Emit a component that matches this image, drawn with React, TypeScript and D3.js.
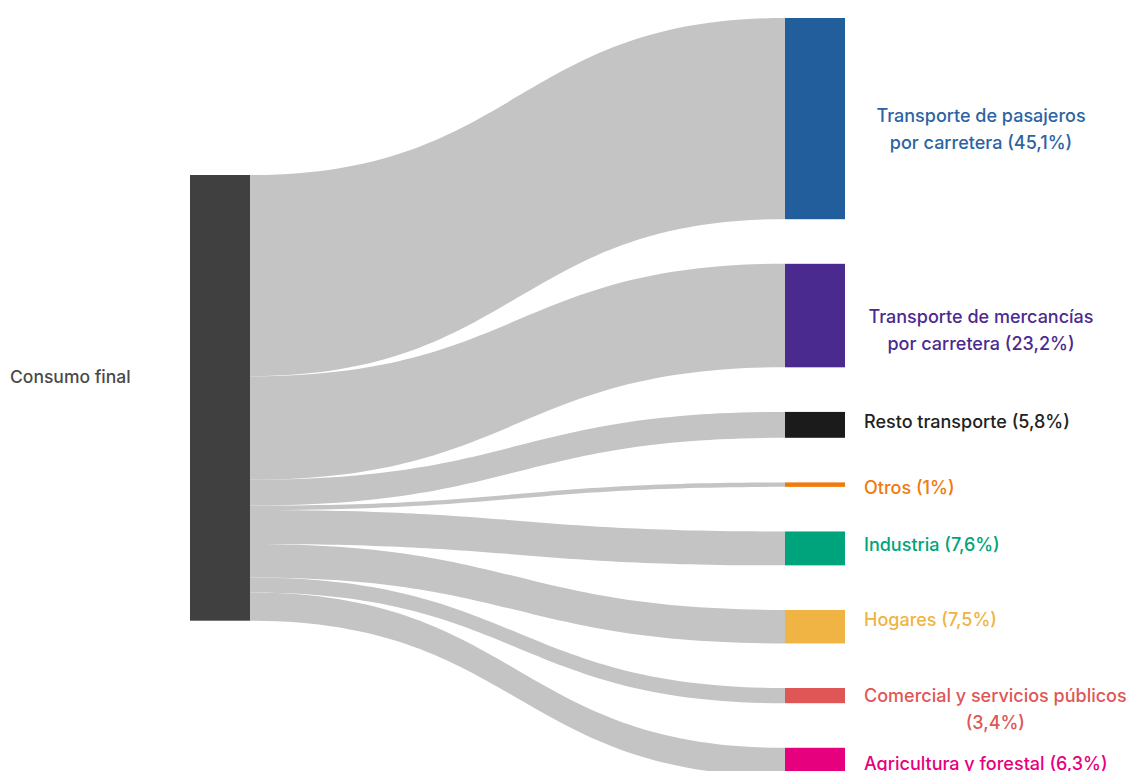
import React, { useEffect, useRef } from "react";
import * as d3 from "d3";

// ---- data ----
const sourceName = "Consumo final";
const targetNames = [
  "Transporte de pasajeros\npor carretera",
  "Transporte de mercancías\npor carretera",
  "Resto transporte",
  "Otros",
  "Industria",
  "Hogares",
  "Comercial y servicios públicos\n",
  "Agricultura y forestal",
];
const shares = [45.1, 23.2, 5.8, 1, 7.6, 7.5, 3.4, 6.3];
const nodeColors = ["#235e9c", "#4b2a8f", "#1b1b1b", "#f07a0c", "#00a47c", "#efb443", "#e05656", "#e6007e"];
const labelColors = ["#2c64a2", "#4b2a8f", "#222222", "#f07a0c", "#00a47c", "#efb443", "#e05656", "#e6007e"];
// small vertical nudges of each label relative to its node centre
const labelDy = [-3, 1, -3, 2.4, -3.5, -7.5, 0, 1.5];

const W = 1126;
const H = 771;

export default function App() {
  const ref = useRef<SVGSVGElement | null>(null);

  useEffect(() => {
    const svg = d3.select(ref.current);
    svg.selectAll("*").remove();

    const total = d3.sum(shares);
    const srcX0 = 190, srcX1 = 250, tgtX0 = 785, tgtX1 = 845;
    const srcTop = 175;
    const tgtTop = 18;
    const pad = 44.6;
    const hScale = d3.scaleLinear().domain([0, total]).range([0, 445.7]);

    // layout
    let sy = srcTop;
    let ty = tgtTop;
    const links = shares.map((v, i) => {
      const h = hScale(v);
      const l = { i, v, h, sy0: sy, sy1: sy + h, ty0: ty, ty1: ty + h };
      sy += h;
      ty += h + pad;
      return l;
    });
    const srcBottom = sy;

    const area = d3
      .area<{ x: number; y0: number; y1: number }>()
      .x((d) => d.x)
      .y0((d) => d.y0)
      .y1((d) => d.y1)
      .curve(d3.curveBumpX);

    const gl = svg.append("g");
    gl.selectAll("path")
      .data(links)
      .join("path")
      .attr("d", (l) =>
        area([
          { x: srcX1, y0: l.sy0, y1: l.sy1 },
          { x: tgtX0, y0: l.ty0, y1: l.ty1 },
        ])
      )
      .attr("fill", "#c4c4c4");

    // source node
    svg.append("rect")
      .attr("x", srcX0)
      .attr("y", srcTop)
      .attr("width", srcX1 - srcX0)
      .attr("height", srcBottom - srcTop)
      .attr("fill", "#404040");

    // target nodes
    svg.append("g")
      .selectAll("rect")
      .data(links)
      .join("rect")
      .attr("x", tgtX0)
      .attr("y", (l) => l.ty0)
      .attr("width", tgtX1 - tgtX0)
      .attr("height", (l) => l.h)
      .attr("fill", (l) => nodeColors[l.i]);

    const font = "Inter, 'Open Sans', sans-serif";
    const fs = 18;
    const lineH = 27;
    const capHalf = fs * 0.364;

    svg.append("text")
      .attr("x", 10)
      .attr("y", 376 + capHalf)
      .attr("font-family", font)
      .attr("font-size", 17.5)
      .attr("font-weight", 500)
      .attr("fill", "#4a4a4a")
      .text(sourceName);

    const fmt = (v: number) => String(v).replace(".", ",");
    const labelLeft = 864;

    links.forEach((l) => {
      const raw = targetNames[l.i];
      const suffix = ` (${fmt(shares[l.i])}%)`;
      let lines = raw.split("\n");
      if (lines[lines.length - 1] === "") lines[lines.length - 1] = suffix.trim();
      else lines[lines.length - 1] = lines[lines.length - 1] + suffix;
      const cy = (l.ty0 + l.ty1) / 2 + labelDy[l.i];
      const t = svg.append("text")
        .attr("font-family", font)
        .attr("font-size", fs)
        .attr("font-weight", 500)
        .attr("fill", labelColors[l.i]);
      const spans = lines.map((line, k) =>
        t.append("tspan").attr("y", cy + capHalf + k * lineH).text(line)
      );
      if (lines.length === 1) {
        spans[0].attr("x", labelLeft);
      } else {
        const maxW = d3.max(spans, (s) => (s.node() as SVGTSpanElement).getComputedTextLength()) || 0;
        const cx = labelLeft + Math.max(maxW, 234) / 2;
        spans.forEach((s) => s.attr("x", cx).attr("text-anchor", "middle"));
      }
    });
  }, []);

  return (
    <svg
      ref={ref}
      width={W}
      height={H}
      style={{ position: "absolute", left: 0, top: 0, background: "#fff" }}
    />
  );
}
